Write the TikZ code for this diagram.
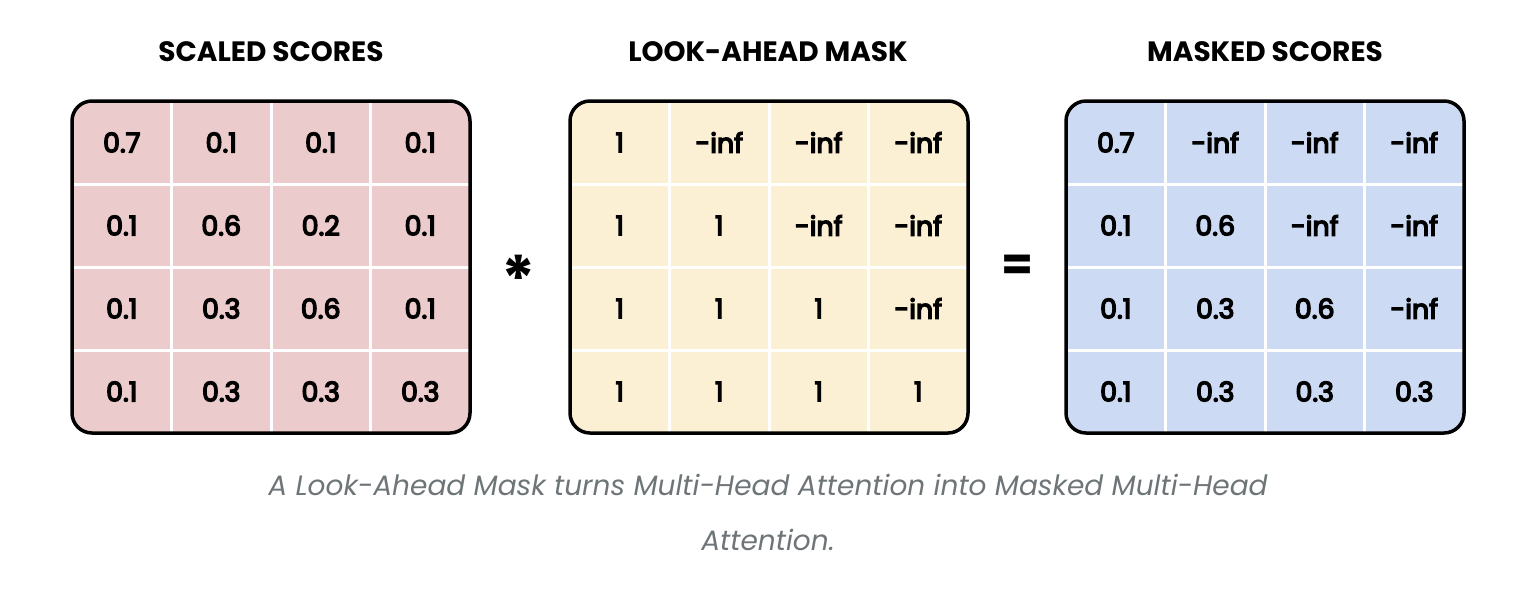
\documentclass[tikz,border=0pt]{standalone}
\usepackage{fontspec}
\setmainfont{Poppins}
\newfontfamily\cellfont[FakeBold=5]{Poppins}
\definecolor{scorefill}{HTML}{EBCBCB}
\definecolor{maskfill}{HTML}{FBEFD4}
\definecolor{resultfill}{HTML}{CCDAF3}
\definecolor{captiongray}{HTML}{6E7578}
\def\cellw{99.5}
\def\cellh{83}

\begin{document}
\begin{tikzpicture}[x=1pt,y=-1pt]
		\tikzstyle{cell}=[minimum width=\cellw pt,minimum height=\cellh pt,inner sep=0pt,draw=white,line width=3pt,font=\fontsize{27}{30}\cellfont]
		\tikzstyle{frame}=[draw=black,line width=3.5pt,rounded corners=20pt,minimum width=4*\cellw pt,minimum height=4*\cellh pt,inner sep=0pt]
		\tikzstyle{title}=[font=\fontsize{28}{32}\selectfont\bfseries]
		\tikzstyle{operator}=[font=\fontsize{46}{50}\selectfont\bfseries]
		\useasboundingbox (0,0) rectangle (1536,598);

			% Cell values, read row by row
		\def\scorevals{0.7,0.1,0.1,0.1,0.1,0.6,0.2,0.1,0.1,0.3,0.6,0.1,0.1,0.3,0.3,0.3}
		\def\maskvals{1,-inf,-inf,-inf,1,1,-inf,-inf,1,1,1,-inf,1,1,1,1}
		\def\resultvals{0.7,-inf,-inf,-inf,0.1,0.6,-inf,-inf,0.1,0.3,0.6,-inf,0.1,0.3,0.3,0.3}

			% Draw the three matrices
		\foreach \name/\x/\col/\vals in {S/72/scorefill/\scorevals,M/570/maskfill/\maskvals,R/1066/resultfill/\resultvals}{
			\edef\vlist{\vals}
			\begin{scope}
			\clip[rounded corners=20pt] (\x,101) rectangle ++(4*\cellw,4*\cellh);
			\foreach \v [count=\i from 0] in \vlist {
				\pgfmathtruncatemacro{\r}{div(\i,4)+1}
				\pgfmathtruncatemacro{\c}{mod(\i,4)+1}
				\node[cell,fill=\col] (\name-\r-\c) at (\x+\c*\cellw-0.5*\cellw,101+\r*\cellh-0.5*\cellh) {\v};
			}
			\end{scope}
			\node[frame] (\name) at (\x+2*\cellw,101+2*\cellh) {};
		}

			% Titles above the matrices
		\node[title] (S-title) at (271,52) {SCALED SCORES};
		\node[title] (M-title) at (768,52) {LOOK-AHEAD MASK};
		\node[title] (R-title) at (1265,52) {MASKED SCORES};

			% Operators between the matrices
		\node[operator,font=\fontsize{64}{70}\selectfont\bfseries] (times) at (519,279) {*};
		\node[operator] (equals) at (1017,268) {=};

			% Caption
		\node[font=\fontsize{28}{55}\selectfont\itshape,text=captiongray,align=center] (caption) at (768,512)
			{A Look-Ahead Mask turns Multi-Head Attention into Masked Multi-Head\\Attention.};
\end{tikzpicture}
\end{document}
